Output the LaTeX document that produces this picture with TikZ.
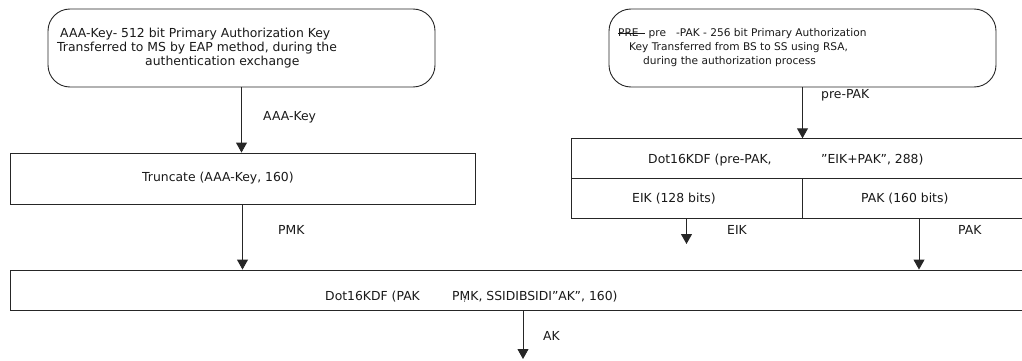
\documentclass[tikz,border=0pt]{standalone}
\usepackage{fontspec}
\setmainfont{DejaVu Sans}
\usetikzlibrary{arrows.meta}
\newcommand{\strikeword}[1]{{\setbox0\hbox{#1}\rlap{\rule[0.3em]{\dimexpr\wd0+6pt\relax}{0.6pt}}\box0}}
\begin{document}
\begin{tikzpicture}[x=1pt,y=-1pt,
  box/.style={draw=black!85,line width=0.9pt,inner sep=0pt},
  txt/.style={anchor=west,inner sep=0pt,font=\fontsize{12.4}{14}\selectfont,text=black!90},
  lt/.style={anchor=west,inner sep=0pt,font=\fontsize{12.4}{14}\selectfont,text=black!90},
  st/.style={anchor=west,inner sep=0pt,font=\fontsize{10.6}{13}\selectfont,text=black!90},
  arr/.style={draw=black!85,line width=0.9pt,-{Triangle[width=11pt,length=10pt]}}]
\useasboundingbox (0,0) rectangle (1022,361);
\clip (0,0) rectangle (1022,361);
% boxes
\node[box,rounded corners=22pt,minimum width=387pt,minimum height=78pt] (lbox) at (241.5,48) {};
\node[box,rounded corners=22pt,minimum width=387pt,minimum height=78pt] (rbox) at (802.5,48) {};
\node[box,minimum width=465pt,minimum height=51pt] (trunc) at (242.5,178.5) {};
\node[box,minimum width=459pt,minimum height=39.5pt] (dottop) at (800.5,158.5) {};
\node[box,minimum width=231pt,minimum height=40pt] (eikcell) at (686.5,198) {};
\node[box,minimum width=228pt,minimum height=40pt] (pakcell) at (916,198) {};
\node[box,minimum width=1020pt,minimum height=40pt] (kdf) at (520,290) {};
% texts in boxes
\node[lt] (l1) at (60,34.5) {AAA-Key- 512 bit Primary Authorization Key};
\node[lt] (l2) at (57,48.5) {Transferred to MS by EAP method, during the};
\node[lt] (l3) at (145,62) {authentication exchange};
\node[st] (r1) at (618,34) {\strikeword{PRE}\hspace{10pt}pre\hspace{10pt}-PAK - 256 bit Primary Authorization};
\node[st] (r2) at (629,48) {Key Transferred from BS to SS using RSA,};
\node[st] (r3) at (643,62) {during the authorization process};
\node[txt] (trt) at (142,178.5) {Truncate (AAA-Key, 160)};
\node[txt] (d1) at (648,160) {Dot16KDF (pre-PAK,};
\node[txt] (d2) at (821,160) {”EIK+PAK”, 288)};
\node[txt] (e1) at (632,199) {EIK (128 bits)};
\node[txt] (p1) at (861,199) {PAK (160 bits)};
\node[txt] (b1) at (325,297) {Dot16KDF (PAK};
\node[txt] (b2) at (452,297) {P\ooalign{M\cr\hidewidth\raisebox{-0.1em}{\fontsize{7}{7}\selectfont ?}\hidewidth\cr}K, SSIDIBSIDI”AK”, 160)};
% connectors
\coordinate (eikend) at (686.5,244);
\coordinate (akend) at (523,359);
\draw[arr] (lbox.south) -- (lbox.south |- trunc.north);
\draw[arr] (rbox.south) -- (rbox.south |- dottop.north);
\draw[arr] (trunc.south) -- (trunc.south |- kdf.north);
\draw[arr] (eikcell.south) -- (eikend);
\draw[arr] ([xshift=3pt]pakcell.south) -- ([xshift=3pt]pakcell.south |- kdf.north);
\draw[arr] (kdf.south -| akend) -- (akend);
% connector labels
\node[txt] (lab1) at (263,117) {AAA-Key};
\node[txt] (lab2) at (821,95) {pre-PAK};
\node[txt] (lab3) at (278,230) {PMK};
\node[txt] (lab4) at (727,230) {EIK};
\node[txt] (lab5) at (958,230) {PAK};
\node[txt] (lab6) at (543,336) {AK};
\end{tikzpicture}
\end{document}
